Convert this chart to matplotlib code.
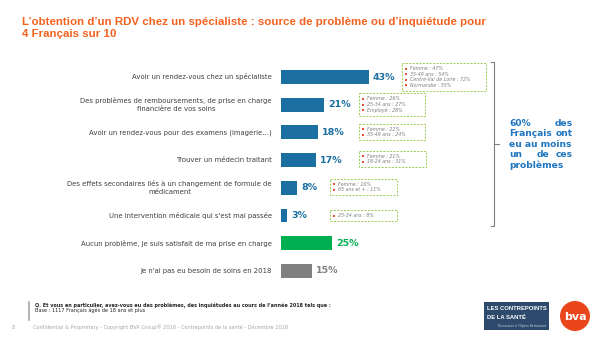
import matplotlib
matplotlib.use("Agg")
import matplotlib.pyplot as plt
from matplotlib.patches import Rectangle, Circle

# ---------------- data ----------------
categories = [
    "Avoir un rendez-vous chez un spécialiste",
    "Des problèmes de remboursements, de prise en charge\nfinancière de vos soins",
    "Avoir un rendez-vous pour des examens (imagerie…)",
    "Trouver un médecin traitant",
    "Des effets secondaires liés à un changement de formule de\nmédicament",
    "Une intervention médicale qui s'est mal passée",
    "Aucun problème, je suis satisfait de ma prise en charge",
    "Je n'ai pas eu besoin de soins en 2018",
]
values = [43, 21, 18, 17, 8, 3, 25, 15]
value_labels = ["43%", "21%", "18%", "17%", "8%", "3%", "25%", "15%"]
details = [
    ["Femme : 47%", "35-49 ans : 54%", "Centre-Val de Loire : 72%", "Normandie : 55%"],
    ["Femme : 26%", "25-34 ans : 27%", "Employé : 28%"],
    ["Femme : 22%", "35-49 ans : 24%"],
    ["Femme : 21%", "18-24 ans : 31%"],
    ["Femme : 10%", "65 ans et + : 11%"],
    ["25-34 ans : 8%"],
    [],
    [],
]
title = ("L\u2019obtention d\u2019un RDV chez un spécialiste : source de problème ou d\u2019inquiétude pour\n"
         "4 Français sur 10")
summary_lines = [["60%", "des"], ["Français", "ont"], ["eu au moins"], ["un", "de", "ces"], ["problèmes"]]

# ---------------- style ----------------
BLUE = "#1B6FA1"
GREEN = "#00B050"
GREY = "#808080"
bar_colors = [BLUE] * 6 + [GREEN, GREY]
label_colors = [BLUE] * 6 + [GREEN, GREY]
TXT = "#404040"

W, H = 600, 338
fig = plt.figure(figsize=(6, 3.38), dpi=100)
fig.patch.set_facecolor("white")

def fx(px):
    return px / W

def fy(py):
    return 1 - py / H

x0 = 281
pxper = 2.04
row0 = 77
step = 27.7
n = len(values)
ax = fig.add_axes([fx(x0), fy(row0 + (n - 0.5) * step), 100 * pxper / W, n * step / H])
ax.barh(range(n), values, height=0.5, color=bar_colors)
ax.set_xlim(0, 100)
ax.set_ylim(n - 0.5, -0.5)
ax.axis("off")

for i, (cat, v, lbl, c) in enumerate(zip(categories, values, value_labels, label_colors)):
    ax.annotate(cat, (0, i), xytext=(-9, 0), textcoords="offset pixels",
                ha="right", va="center", multialignment="center",
                fontsize=4.95, color=TXT, linespacing=1.4)
    ax.annotate(lbl, (v, i), xytext=(4, 0), textcoords="offset pixels",
                ha="left", va="center", fontsize=6.8, fontweight="bold", color=c)

# overlay axes in pixel coordinates
ov = fig.add_axes([0, 0, 1, 1], zorder=5)
ov.set_xlim(0, W)
ov.set_ylim(H, 0)
ov.axis("off")
ov.patch.set_alpha(0)

# annotation boxes (left, top, right, bottom) in pixels
boxes = [(402, 63, 486, 91), (359, 93, 425, 116), (359, 124, 425, 140),
         (359, 151, 426, 167), (330, 179, 397, 195), (330, 210, 397, 221)]
for (l, t, r, b), lines in zip(boxes, details):
    ov.add_patch(Rectangle((l, t), r - l, b - t, fill=False, edgecolor="#9BCB4F",
                           lw=0.7, linestyle=(0, (2, 1.5))))
    nl = len(lines)
    sp = 5.6
    ystart = (t + b) / 2 - (nl - 1) * sp / 2
    for k, s in enumerate(lines):
        yy = ystart + k * sp
        ov.add_patch(Rectangle((l + 3, yy - 1), 2, 2, color="#E8503A", lw=0))
        ov.text(l + 8, yy, s, fontsize=3.4, style="italic", color="#7F7F7F",
                ha="left", va="center")

# bracket
ov.plot([491, 494, 494, 491], [62, 62, 226, 226], color="#7F7F7F", lw=0.8)
ov.plot([494, 499], [143.5, 143.5], color="#7F7F7F", lw=0.8)

# summary justified text
SUM = "#1F76C0"
sx0, sx1 = 509, 573
for k, words in enumerate(summary_lines):
    yy = 123.5 + k * 10.4
    if len(words) == 1:
        ov.text(sx0, yy, words[0], ha="left", va="center", fontsize=6.6,
                fontweight="bold", color=SUM)
    else:
        m = len(words)
        for j, w in enumerate(words):
            if j == 0:
                ov.text(sx0, yy, w, ha="left", va="center", fontsize=6.6, fontweight="bold", color=SUM)
            elif j == m - 1:
                ov.text(sx1, yy, w, ha="right", va="center", fontsize=6.6, fontweight="bold", color=SUM)
            else:
                ov.text(sx0 + (sx1 - sx0) * j / (m - 1) + 2, yy, w, ha="center", va="center",
                        fontsize=6.6, fontweight="bold", color=SUM)

# title
ov.text(22, 28, title, ha="left", va="center", fontsize=8.25, fontweight="bold",
        color="#F4621F", linespacing=1.3, family="Liberation Sans")

# footer
ov.plot([29, 29], [302, 320], color="#A6A6A6", lw=1.2)
ov.text(35, 305, "Q. Et vous en particulier, avez-vous eu des problèmes, des inquiétudes au cours de l\u2019année 2018 tels que :",
        fontsize=3.55, fontweight="bold", color="#262626", ha="left", va="center")
ov.text(35, 310.5, "Base : 1117 Français âgés de 18 ans et plus", fontsize=3.6,
        color="#262626", ha="left", va="center")
ov.text(12, 327.5, "8", fontsize=3.7, color="#A6A6A6", ha="left", va="center")
ov.text(33, 327.5, "Confidential & Proprietary - Copyright BVA Group\u00ae 2018 - Contrepoints de la santé - Décembre 2018",
        fontsize=3.6, color="#A6A6A6", ha="left", va="center")

# logos
ov.add_patch(Rectangle((484, 302), 65, 28, color="#2D4A6C", lw=0))
ov.text(487, 309, "LES CONTREPOINTS", fontsize=4.25, fontweight="bold", color="white",
        ha="left", va="center", family="Liberation Sans")
ov.text(487, 317, "DE LA SANTÉ", fontsize=4.25, fontweight="bold", color="white",
        ha="left", va="center", family="Liberation Sans")
ov.text(546, 326, "Discussion à l'Opéra Restaurant", fontsize=2.2, color="#C9D3DF",
        ha="right", va="center")
ov.add_patch(Circle((575, 316), 15, color="#E9461C", lw=0))
ov.text(575, 316.5, "bva", fontsize=8, fontweight="bold", color="white",
        ha="center", va="center")

fig.savefig("out.png", dpi=100)
